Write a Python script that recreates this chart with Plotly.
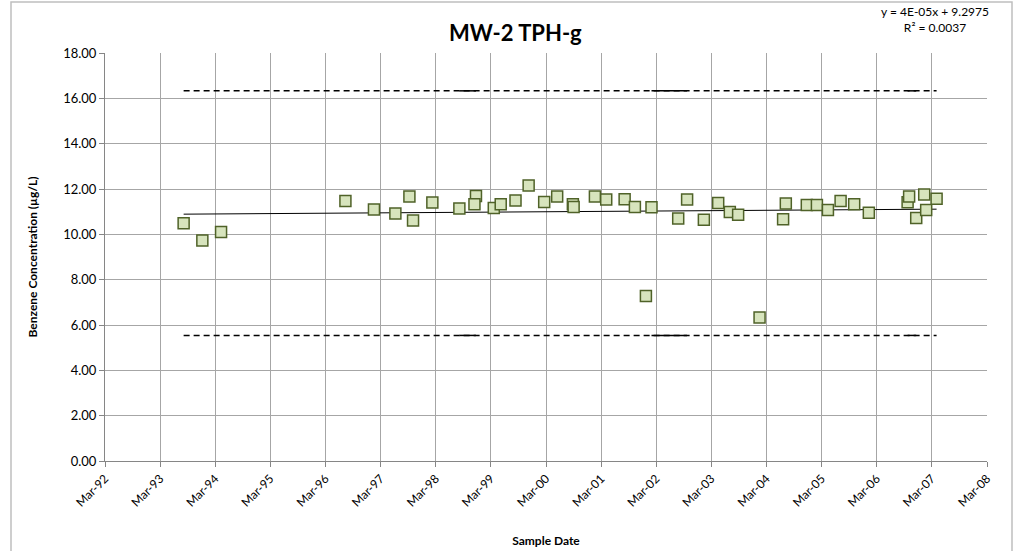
import numpy as np
import pandas as pd
import plotly.graph_objects as go

# ---- data ----
sample_dates = [
    "1993-08-04", "1993-12-06", "1994-04-09", "1996-07-11", "1997-01-16",
    "1997-06-07", "1997-09-08", "1997-10-02", "1998-02-07", "1998-08-05",
    "1998-11-23", "1998-11-13", "1999-03-21", "1999-05-06", "1999-08-12",
    "1999-11-07", "2000-02-18", "2000-05-14", "2000-08-26", "2000-08-31",
    "2001-01-19", "2001-04-04", "2001-08-04", "2001-10-11", "2001-12-23",
    "2002-01-29", "2002-07-25", "2002-09-22", "2003-01-11", "2003-04-16",
    "2003-07-02", "2003-08-26", "2004-01-15", "2004-06-19", "2004-07-07",
    "2004-11-23", "2005-01-29", "2005-04-12", "2005-07-05", "2005-10-03",
    "2006-01-08", "2006-09-22", "2006-10-02", "2006-11-18", "2007-01-10",
    "2007-01-23", "2007-04-02",
]
concentrations = [
    10.49, 9.73, 10.10, 11.47, 11.10,
    10.92, 11.67, 10.61, 11.40, 11.14,
    11.69, 11.33, 11.16, 11.33, 11.49,
    12.15, 11.43, 11.67, 11.33, 11.21,
    11.67, 11.54, 11.55, 11.21, 7.28,
    11.20, 10.70, 11.54, 10.64, 11.38,
    10.99, 10.86, 6.33, 10.67, 11.36,
    11.29, 11.29, 11.07, 11.47, 11.33,
    10.95, 11.42, 11.67, 10.72, 11.76,
    11.07, 11.57,
]
upper_limit = 16.33
lower_limit = 5.54
# stretches where the dashed limit lines overlap into solid segments
overlap_spans = [("1998-08-05", "1998-11-23"), ("2002-01-29", "2002-09-22"),
                 ("2006-09-22", "2006-11-18")]
y_ticks = [0, 2, 4, 6, 8, 10, 12, 14, 16, 18]
title_text = "MW-2 TPH-g"
equation_text = "y = 4E-05x + 9.2975<br>R² = 0.0037"

# ---- derived ----
dates = pd.to_datetime(sample_dates)
vals = np.array(concentrations)
excel_epoch = pd.Timestamp("1899-12-30")
days = (dates - excel_epoch).days.values.astype(float)
slope, intercept = np.polyfit(days, vals, 1)
d_first, d_last = dates.min(), dates.max()
trend_x = [d_first, d_last]
trend_y = [intercept + slope * (d - excel_epoch).days for d in trend_x]

FONT = "Lato, 'Open Sans', sans-serif"

PX_L, PX_R, PX_T, PX_B = 105, 987, 53, 461
W, H = 1015, 551


def px(x):
    return (x - PX_L) / (PX_R - PX_L)


def py(y):
    return (PX_B - y) / (PX_B - PX_T)


fig = go.Figure()
for lim in (upper_limit, lower_limit):
    fig.add_trace(go.Scatter(x=[d_first, d_last], y=[lim, lim], mode="lines",
                             line=dict(color="black", width=1.5, dash="6px,4px"), hoverinfo="skip"))
    for a, b in overlap_spans:
        fig.add_trace(go.Scatter(x=[pd.Timestamp(a), pd.Timestamp(b)], y=[lim, lim], mode="lines",
                                 line=dict(color="black", width=1.5), hoverinfo="skip"))
fig.add_trace(go.Scatter(x=trend_x, y=trend_y, mode="lines",
                         line=dict(color="black", width=1), hoverinfo="skip"))
fig.add_trace(go.Scatter(x=dates, y=vals, mode="markers",
                         marker=dict(symbol="square", size=11, color="#d7e4bd",
                                     line=dict(color="#4f6228", width=1.5))))

fig.update_layout(
    width=W, height=H,
    margin=dict(l=PX_L, r=W - PX_R, t=PX_T, b=H - PX_B, autoexpand=False),
    paper_bgcolor="white", plot_bgcolor="white",
    showlegend=False,
    font=dict(family=FONT, color="#000000"),
    xaxis=dict(
        type="date", automargin=False,
        range=["1992-03-01", "2008-03-01"],
        tick0="1992-03-01", dtick="M12", tickformat="%b-%y",
        tickangle=-45, tickfont=dict(size=12, family=FONT),
        showgrid=True, gridcolor="#a6a6a6", gridwidth=1,
        showline=True, linecolor="#868686", linewidth=1,
        ticks="outside", ticklen=5, tickcolor="#868686",
        title=dict(text="<b>Sample Date</b>", font=dict(size=12, family=FONT), standoff=27),
        zeroline=False,
    ),
    yaxis=dict(
        automargin=False,
        range=[0, 18], tickvals=y_ticks, tickformat=".2f",
        tickfont=dict(size=13, family=FONT),
        showgrid=True, gridcolor="#a6a6a6", gridwidth=1,
        showline=True, linecolor="#868686", linewidth=1,
        ticks="outside", ticklen=5, tickcolor="#868686",
        title=dict(text="<b>Benzene Concentration (µg/L)</b>", font=dict(size=12, family=FONT), standoff=22),
        zeroline=False,
    ),
    annotations=[
        dict(text="<b>" + title_text + "</b>", x=px(515), y=py(33),
             xref="paper", yref="paper", showarrow=False, font=dict(size=22, family=FONT),
             xanchor="center", yanchor="middle"),
        dict(text=equation_text, x=px(935), y=py(19),
             xref="paper", yref="paper", showarrow=False, font=dict(size=12, family=FONT),
             xanchor="center", yanchor="middle", align="center"),
    ],
    shapes=[
        dict(type="rect", xref="paper", yref="paper",
             x0=px(11), x1=px(1012), y0=py(575), y1=py(2),
             line=dict(color="#bfbfbf", width=1.5), fillcolor="rgba(0,0,0,0)", layer="below"),
    ],
)

fig.write_html("out.html", config={"displayModeBar": False},
               post_script="document.body.style.margin='0';document.body.style.padding='0';")
